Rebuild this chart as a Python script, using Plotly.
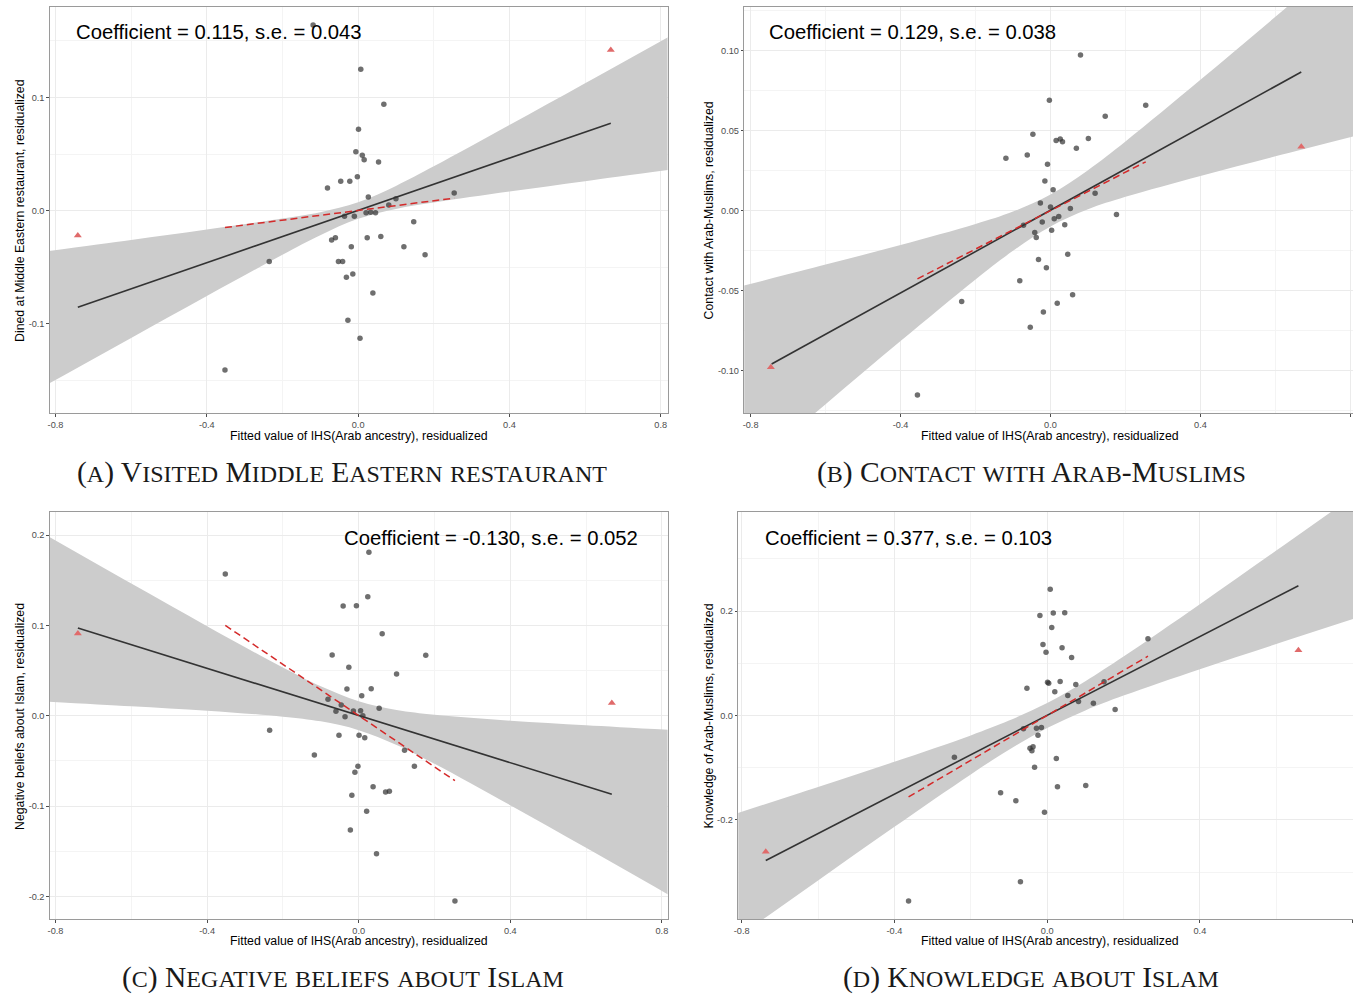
import plotly.graph_objects as go

# ---------------- data ----------------
band_x = [-0.82, -0.6, -0.4, -0.2, -0.1, 0.0, 0.1, 0.2, 0.4, 0.6, 0.82]

# Panel A: Visited Middle Eastern restaurant
a_x = [-0.119, 0.007, 0.068, 0.001, -0.006, 0.011, 0.016, 0.054, -0.002, -0.046, -0.022, -0.081, 0.254,
       0.027, 0.100, 0.081, 0.021, 0.033, 0.046, -0.010, -0.036, 0.147, -0.060, -0.070, 0.024, 0.060,
       -0.018, 0.121, 0.177, -0.235, -0.052, -0.041, -0.014, -0.031, 0.039, -0.027, 0.005, -0.352]
a_y = [0.164, 0.125, 0.094, 0.072, 0.052, 0.049, 0.045, 0.043, 0.030, 0.026, 0.026, 0.020, 0.0155,
       0.012, 0.0105, 0.005, -0.002, -0.0015, -0.002, -0.005, -0.005, -0.010, -0.024, -0.026, -0.024, -0.023,
       -0.032, -0.032, -0.039, -0.045, -0.045, -0.045, -0.056, -0.059, -0.073, -0.097, -0.113, -0.141]
a_tri_x = [-0.741, 0.668]
a_tri_y = [-0.022, 0.142]
a_fit_x = [-0.741, 0.668]
a_fit_y = [-0.0855, 0.0773]
a_dash_x = [-0.352, 0.254]
a_dash_y = [-0.015, 0.011]
a_band_lo = [-0.1535, -0.1126, -0.0756, -0.0391, -0.0218, -0.0073, 0.0014, 0.0071, 0.0168, 0.0260, 0.0359]
a_band_hi = [-0.0359, -0.0260, -0.0168, -0.0071, -0.0014, 0.0073, 0.0218, 0.0391, 0.0756, 0.1126, 0.1535]

# Panel B: Contact with Arab-Muslims
b_x = [0.080, -0.003, 0.254, 0.146, -0.047, 0.101, 0.015, 0.026, 0.032, 0.069, -0.062, -0.119, -0.008,
       -0.015, 0.007, 0.119, -0.027, 0.000, 0.053, 0.176, 0.010, 0.022, -0.022, -0.072, 0.038, -0.042,
       0.003, -0.038, 0.046, -0.032, -0.011, -0.082, 0.059, -0.237, 0.018, -0.019, -0.054, -0.355]
b_y = [0.0971, 0.0689, 0.0658, 0.0588, 0.0476, 0.0449, 0.0437, 0.0447, 0.0429, 0.0389, 0.0346, 0.0327, 0.0288,
       0.0184, 0.0130, 0.0108, 0.0046, 0.0021, 0.0012, -0.0025, -0.0052, -0.0037, -0.0072, -0.0093, -0.0089, -0.0137,
       -0.0124, -0.0168, -0.0273, -0.0306, -0.0358, -0.0439, -0.0526, -0.0569, -0.0580, -0.0634, -0.0729, -0.1153]
b_tri_x = [-0.746, 0.669]
b_tri_y = [-0.0979, 0.0398]
b_fit_x = [-0.744, 0.669]
b_fit_y = [-0.0959, 0.0865]
b_dash_x = [-0.355, 0.254]
b_dash_y = [-0.0427, 0.0304]
b_band_lo = [-0.1646, -0.1210, -0.0816, -0.0431, -0.0252, -0.0100, 0.0007, 0.0085, 0.0216, 0.0338, 0.0470]
b_band_hi = [-0.0470, -0.0338, -0.0216, -0.0085, -0.0007, 0.0100, 0.0252, 0.0431, 0.0816, 0.1210, 0.1646]

# Panel C: Negative beliefs about Islam
c_x = [0.027, -0.352, 0.024, -0.041, -0.006, 0.062, -0.070, 0.177, -0.026, 0.100, -0.031, 0.033, 0.008,
       -0.081, -0.046, 0.054, -0.060, -0.014, 0.005, 0.011, -0.036, -0.235, -0.052, 0.001, 0.016, 0.121,
       -0.117, 0.147, -0.002, -0.010, 0.038, 0.071, 0.081, -0.018, 0.021, -0.022, 0.047, 0.254]
c_y = [0.1808, 0.1568, 0.1317, 0.1214, 0.1218, 0.0908, 0.0672, 0.0668, 0.0535, 0.0461, 0.0295, 0.0299, 0.0221,
       0.0181, 0.0118, 0.0081, 0.0048, 0.0052, 0.0055, 0.0000, -0.0011, -0.0162, -0.0218, -0.0218, -0.0244, -0.0384,
       -0.0435, -0.0561, -0.0561, -0.0627, -0.0786, -0.0845, -0.0838, -0.0882, -0.1059, -0.1266, -0.1528, -0.2052]
c_tri_x = [-0.741, 0.668]
c_tri_y = [0.0911, 0.0140]
c_fit_x = [-0.741, 0.668]
c_fit_y = [0.0970, -0.0871]
c_dash_x = [-0.352, 0.254]
c_dash_y = [0.1000, -0.0720]
c_band_lo = [0.0156, 0.0105, 0.0055, -0.0011, -0.0063, -0.0160, -0.0325, -0.0533, -0.0991, -0.1463, -0.1988]
c_band_hi = [0.1988, 0.1463, 0.0991, 0.0533, 0.0325, 0.0160, 0.0063, 0.0011, -0.0055, -0.0105, -0.0156]

# Panel D: Knowledge about Islam
d_x = [0.008, -0.019, 0.016, 0.046, 0.012, 0.264, -0.011, 0.039, -0.003, 0.064, 0.001, 0.004, 0.034,
       0.075, -0.053, 0.020, 0.054, 0.149, 0.082, 0.121, 0.178, -0.028, -0.015, -0.062, -0.024, -0.045,
       -0.037, -0.040, -0.243, 0.024, -0.033, 0.101, 0.027, -0.122, -0.082, -0.007, -0.070, -0.363]
d_y = [0.242, 0.1917, 0.1962, 0.1968, 0.1687, 0.147, 0.136, 0.1297, 0.1214, 0.1112, 0.0639, 0.062, 0.0652,
       0.0594, 0.0524, 0.0454, 0.0383, 0.0645, 0.0268, 0.0236, 0.0115, -0.0243, -0.0230, -0.0256, -0.0377, -0.0626,
       -0.0601, -0.0677, -0.0799, -0.0824, -0.099, -0.1342, -0.1367, -0.1482, -0.1636, -0.1853, -0.3188, -0.3553]
d_tri_x = [-0.737, 0.658]
d_tri_y = [-0.2613, 0.1252]
d_fit_x = [-0.737, 0.658]
d_fit_y = [-0.278, 0.2486]
d_dash_x = [-0.363, 0.264]
d_dash_y = [-0.156, 0.1137]
d_band_lo = [-0.4298, -0.3160, -0.2133, -0.1129, -0.0657, -0.0240, 0.0098, 0.0381, 0.0887, 0.1370, 0.1893]
d_band_hi = [-0.1893, -0.1370, -0.0887, -0.0381, -0.0098, 0.0240, 0.0657, 0.1129, 0.2133, 0.3160, 0.4298]

x_tick_vals = [-0.8, -0.4, 0.0, 0.4, 0.8]
x_tick_text = ["-0.8", "-0.4", "0.0", "0.4", "0.8"]
a_ytick_vals = [-0.1, 0.0, 0.1]
a_ytick_text = ["-0.1", "0.0", "0.1"]
b_ytick_vals = [-0.10, -0.05, 0.0, 0.05, 0.10]
b_ytick_text = ["-0.10", "-0.05", "0.00", "0.05", "0.10"]
c_ytick_vals = [-0.2, -0.1, 0.0, 0.1, 0.2]
c_ytick_text = ["-0.2", "-0.1", "0.0", "0.1", "0.2"]
d_ytick_vals = [-0.2, 0.0, 0.2]
d_ytick_text = ["-0.2", "0.0", "0.2"]

x_title = "Fitted value of IHS(Arab ancestry), residualized"
y_titles = ["Dined at Middle Eastern restaurant, residualized",
            "Contact with Arab-Muslims, residualized",
            "Negative beliefs about Islam, residualized",
            "Knowledge of Arab-Muslims, residualized"]
coef_texts = ["Coefficient = 0.115, s.e. = 0.043",
              "Coefficient = 0.129, s.e. = 0.038",
              "Coefficient = -0.130, s.e. = 0.052",
              "Coefficient = 0.377, s.e. = 0.103"]
captions = ["(a) Visited Middle Eastern restaurant",
            "(b) Contact with Arab-Muslims",
            "(c) Negative beliefs about Islam",
            "(d) Knowledge about Islam"]

# ---------------- layout constants ----------------
W, H = 1354, 995
def px(x):
    return x / W
def py(y):
    return 1 - y / H

SANS = "Liberation Sans, Arial, sans-serif"
SERIF = "Liberation Serif, Times New Roman, serif"

panels = [
    dict(ax="", data=(a_x, a_y, a_tri_x, a_tri_y, a_fit_x, a_fit_y, a_dash_x, a_dash_y, a_band_lo, a_band_hi),
         xdom=[px(46), px(666)], ydom=[py(413), py(7)], xr=[-0.815, 0.818], yr=[-0.179, 0.180],
         yt=(a_ytick_vals, a_ytick_text), yminor=[-0.15, -0.05, 0.05, 0.15], right=True),
    dict(ax="2", data=(b_x, b_y, b_tri_x, b_tri_y, b_fit_x, b_fit_y, b_dash_x, b_dash_y, b_band_lo, b_band_hi),
         xdom=[px(743), 1.0], ydom=[py(413), py(7)], xr=[-0.817, 0.807], yr=[-0.1265, 0.1271],
         yt=(b_ytick_vals, b_ytick_text), yminor=[-0.125, -0.075, -0.025, 0.025, 0.075, 0.125], right=False),
    dict(ax="3", data=(c_x, c_y, c_tri_x, c_tri_y, c_fit_x, c_fit_y, c_dash_x, c_dash_y, c_band_lo, c_band_hi),
         xdom=[px(46), px(666)], ydom=[py(919), py(512)], xr=[-0.815, 0.815], yr=[-0.2251, 0.2255],
         yt=(c_ytick_vals, c_ytick_text), yminor=[-0.15, -0.05, 0.05, 0.15], right=True),
    dict(ax="4", data=(d_x, d_y, d_tri_x, d_tri_y, d_fit_x, d_fit_y, d_dash_x, d_dash_y, d_band_lo, d_band_hi),
         xdom=[px(737), 1.0], ydom=[py(919), py(512)], xr=[-0.809, 0.801], yr=[-0.390, 0.390],
         yt=(d_ytick_vals, d_ytick_text), yminor=[-0.3, -0.1, 0.1, 0.3], right=False),
]

fig = go.Figure()

for p in panels:
    xs, ys, tx, ty, fx, fy, dx, dy, blo, bhi = p["data"]
    xa, ya = "x" + p["ax"], "y" + p["ax"]
    fig.add_trace(go.Scatter(x=band_x, y=blo, mode="lines", line=dict(width=0, shape="spline"),
                             xaxis=xa, yaxis=ya, hoverinfo="skip", showlegend=False))
    fig.add_trace(go.Scatter(x=band_x, y=bhi, mode="lines", line=dict(width=0, shape="spline"),
                             fill="tonexty", fillcolor="#CCCCCC",
                             xaxis=xa, yaxis=ya, hoverinfo="skip", showlegend=False))
    fig.add_trace(go.Scatter(x=xs, y=ys, mode="markers",
                             marker=dict(size=5.5, color="rgba(50,50,50,0.7)", line=dict(width=0)),
                             xaxis=xa, yaxis=ya, showlegend=False))
    fig.add_trace(go.Scatter(x=tx, y=ty, mode="markers",
                             marker=dict(size=7, symbol="triangle-up", color="#E06A6A", line=dict(width=0)),
                             xaxis=xa, yaxis=ya, showlegend=False))
    fig.add_trace(go.Scatter(x=fx, y=fy, mode="lines", line=dict(color="#333333", width=1.6),
                             xaxis=xa, yaxis=ya, showlegend=False))
    fig.add_trace(go.Scatter(x=dx, y=dy, mode="lines", line=dict(color="#D42A2A", width=1.5, dash="7px,4px"),
                             xaxis=xa, yaxis=ya, showlegend=False))

    axis_common = dict(showline=True, linecolor="#9A9A9A", linewidth=1, zeroline=False,
                       showgrid=True, gridcolor="#EBEBEB", gridwidth=0.8,
                       ticks="outside", ticklen=2.5, tickcolor="#4D4D4D", tickwidth=0.8,
                       tickfont=dict(family=SANS, size=9.2, color="#4D4D4D"))
    xkey = "xaxis" + p["ax"]
    ykey = "yaxis" + p["ax"]
    fig.update_layout(**{
        xkey: dict(domain=p["xdom"], range=p["xr"], anchor=ya, mirror=True,
                   tickmode="array", tickvals=x_tick_vals, ticktext=x_tick_text,
                   minor=dict(tickvals=[-0.6, -0.2, 0.2, 0.6], showgrid=True, gridcolor="#F4F4F4", gridwidth=0.6),
                   **axis_common),
        ykey: dict(domain=p["ydom"], range=p["yr"], anchor=xa, mirror=p["right"],
                   tickmode="array", tickvals=p["yt"][0], ticktext=p["yt"][1],
                   minor=dict(tickvals=p["yminor"], showgrid=True, gridcolor="#F4F4F4", gridwidth=0.6),
                   **axis_common),
    })

annotations = []
# axis titles
xt_pos = [(356, 435.5), (1050, 435.5), (356, 940.5), (1050, 940.5)]
yt_pos = [(16, 210), (708, 210), (16, 716), (708, 716)]
for (xp, yp) in xt_pos:
    annotations.append(dict(text=x_title, x=px(xp), y=py(yp), xref="paper", yref="paper",
                            showarrow=False, xanchor="center", yanchor="middle",
                            font=dict(family=SANS, size=12.3, color="#000000")))
for (xp, yp), t in zip(yt_pos, y_titles):
    annotations.append(dict(text=t, x=px(xp), y=py(yp), xref="paper", yref="paper", textangle=-90,
                            showarrow=False, xanchor="center", yanchor="middle",
                            font=dict(family=SANS, size=12.3, color="#000000")))
# coefficient labels
coef_pos = [(70, 32, "left"), (766, 32, "left"), (638, 538, "right"), (762, 538, "left")]
for (xp, yp, anc), t in zip(coef_pos, coef_texts):
    annotations.append(dict(text=t, x=px(xp), y=py(yp), xref="paper", yref="paper",
                            showarrow=False, xanchor=anc, yanchor="middle",
                            font=dict(family=SANS, size=20.3, color="#000000")))

# small-caps captions
def small_caps(s, small=24):
    out = []
    for ch in s:
        if ch.islower():
            out.append("<span style='font-size:%.1fpx'>%s</span>" % (small, ch.upper()))
        else:
            out.append(ch)
    return "".join(out)

cap_pos = [(339, 472), (1031, 472), (340, 977), (1031, 977)]
for (xp, yp), t in zip(cap_pos, captions):
    annotations.append(dict(text=small_caps(t), x=px(xp), y=py(yp), xref="paper", yref="paper",
                            showarrow=False, xanchor="center", yanchor="middle",
                            font=dict(family=SERIF, size=29.5, color="#1A1A1A")))

fig.update_layout(width=W, height=H, margin=dict(l=0, r=0, t=0, b=0),
                  paper_bgcolor="white", plot_bgcolor="white",
                  showlegend=False, annotations=annotations)

fig.write_html("out.html",
               config={"displayModeBar": False},
               post_script="document.body.style.margin='0';document.body.style.overflow='hidden';")
